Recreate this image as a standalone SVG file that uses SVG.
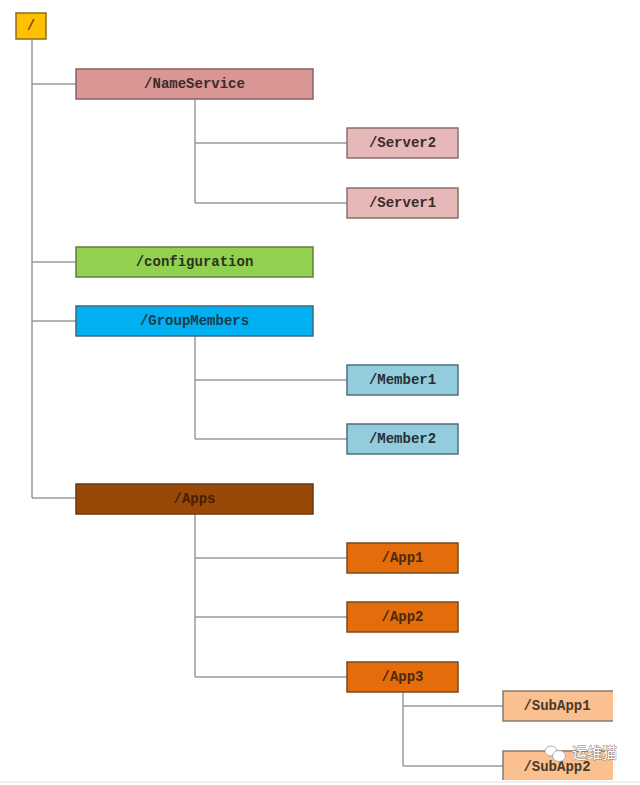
<svg xmlns="http://www.w3.org/2000/svg" width="640" height="785" viewBox="0 0 640 785">
<style>
.lbl{font-family:"Liberation Mono","DejaVu Sans Mono",monospace;font-size:14px;font-weight:bold;fill:#3b2b2b;text-anchor:middle;dominant-baseline:central}
.box{stroke-width:1.5}
.conn{stroke:#9a9a9a;stroke-width:1.5;fill:none}
.wm{font-family:"Noto Sans CJK SC",sans-serif;font-size:15px;fill:#ffffff;stroke:#7a7a7a;stroke-width:0.8;paint-order:stroke}
</style>
<rect width="640" height="785" fill="#ffffff"/>
<g id="connectors" class="conn">
<path d="M32 39 V498 M32 84 H76 M32 262 H76 M32 321 H76 M32 498 H76"/>
<path d="M195 99 V203 M195 143 H347 M195 203 H347"/>
<path d="M195 336 V439 M195 380 H347 M195 439 H347"/>
<path d="M195 514 V677 M195 558 H347 M195 617 H347 M195 677 H347"/>
<path d="M403 692 V766 M403 706 H503 M403 766 H503"/>
</g>
<g id="root"><rect class="box" x="16" y="13" width="30" height="26" fill="#FFC000" stroke="#8c6d1f"/><text class="lbl" x="31" y="26" style="fill:#6b4a10">/</text></g>
<g id="nameservice"><rect class="box" x="76" y="69" width="237" height="30" fill="#D99694" stroke="#8a6262"/><text class="lbl" x="194.5" y="84">/NameService</text></g>
<g id="server2"><rect class="box" x="347" y="128" width="111" height="30" fill="#E6B9B8" stroke="#8a7070"/><text class="lbl" x="402.5" y="143">/Server2</text></g>
<g id="server1"><rect class="box" x="347" y="188" width="111" height="30" fill="#E6B9B8" stroke="#8a7070"/><text class="lbl" x="402.5" y="203">/Server1</text></g>
<g id="configuration"><rect class="box" x="76" y="247" width="237" height="30" fill="#92D050" stroke="#5f7f3f"/><text class="lbl" x="194.5" y="262" style="fill:#2b3320">/configuration</text></g>
<g id="groupmembers"><rect class="box" x="76" y="306" width="237" height="30" fill="#00B0F0" stroke="#3a6a80"/><text class="lbl" x="194.5" y="321" style="fill:#1f3a4f">/GroupMembers</text></g>
<g id="member1"><rect class="box" x="347" y="365" width="111" height="30" fill="#93CDDD" stroke="#4f6f78"/><text class="lbl" x="402.5" y="380" style="fill:#262f33">/Member1</text></g>
<g id="member2"><rect class="box" x="347" y="424" width="111" height="30" fill="#93CDDD" stroke="#4f6f78"/><text class="lbl" x="402.5" y="439" style="fill:#262f33">/Member2</text></g>
<g id="apps"><rect class="box" x="76" y="484" width="237" height="30" fill="#984807" stroke="#6a3a12"/><text class="lbl" x="194.5" y="499" style="fill:#4a1e05">/Apps</text></g>
<g id="app1"><rect class="box" x="347" y="543" width="111" height="30" fill="#E46C0A" stroke="#7a4a22"/><text class="lbl" x="402.5" y="558" style="fill:#4a2a12">/App1</text></g>
<g id="app2"><rect class="box" x="347" y="602" width="111" height="30" fill="#E46C0A" stroke="#7a4a22"/><text class="lbl" x="402.5" y="617" style="fill:#4a2a12">/App2</text></g>
<g id="app3"><rect class="box" x="347" y="662" width="111" height="30" fill="#E46C0A" stroke="#7a4a22"/><text class="lbl" x="402.5" y="677" style="fill:#4a2a12">/App3</text></g>
<g id="subapp1"><rect x="503" y="691" width="110" height="30" fill="#FAC090"/><path d="M613 691 H503 V721 H613" fill="none" stroke="#8a7a6a" stroke-width="1.5"/><text class="lbl" x="557" y="706" style="fill:#4a3a2a">/SubApp1</text></g>
<g id="subapp2"><rect x="503" y="751" width="110" height="29" fill="#FAC090"/><path d="M613 751 H503 V780" fill="none" stroke="#8a7a6a" stroke-width="1.5"/><text class="lbl" x="557" y="767" style="fill:#4a3a2a">/SubApp2</text></g>
<line x1="0" y1="782" x2="640" y2="782" stroke="#e2e2e2" stroke-width="1"/>
<g id="watermark">
<ellipse cx="551" cy="751" rx="6" ry="5" fill="#ffffff" stroke="#9a9a9a" stroke-width="0.8"/>
<ellipse cx="559" cy="756" rx="6.5" ry="5.5" fill="#ffffff" stroke="#9a9a9a" stroke-width="0.8"/>
<text class="wm" x="572" y="758">运维猫</text>
</g>
</svg>
